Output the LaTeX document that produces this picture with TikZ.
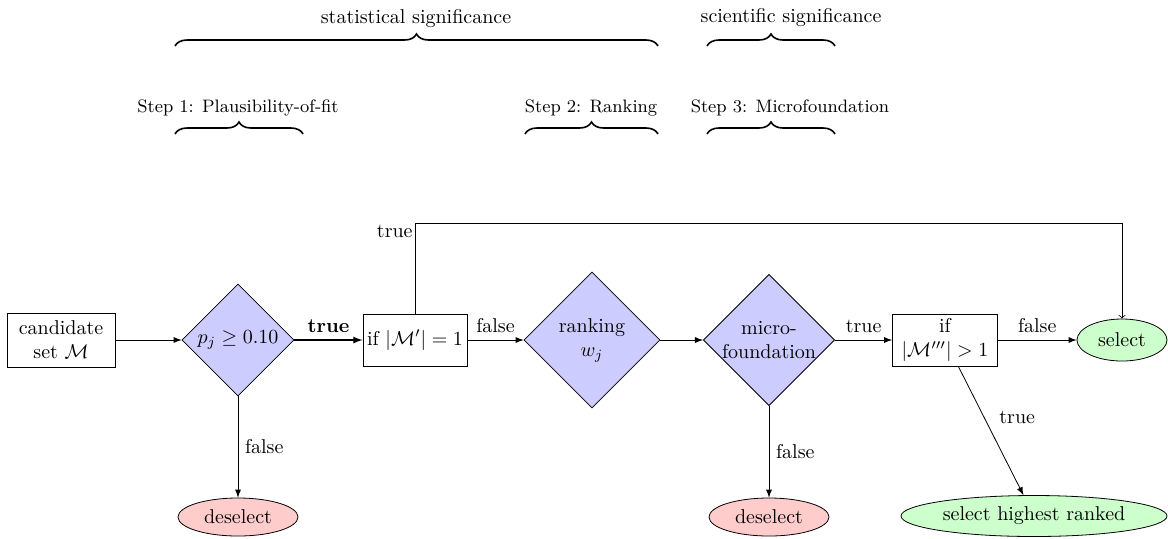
\documentclass[tikz,border=0pt]{standalone}
\usetikzlibrary{shapes.geometric,decorations.pathreplacing,arrows}
\begin{document}
\begin{tikzpicture}[x=0.5pt,y=-0.5pt,
  box/.style={draw,rectangle,align=center,inner sep=2pt},
  decision/.style={draw,diamond,fill=blue!20,inner sep=0pt,align=center},
  endsel/.style={draw,ellipse,fill=green!20,inner sep=0pt},
  enddesel/.style={draw,ellipse,fill=red!20,inner sep=0pt},
  arr/.style={-latex},
  bracestyle/.style={decorate,decoration={brace,amplitude=6pt},thick},
  steplbl/.style={font=\small,anchor=base},
  toplbl/.style={anchor=base}]
\useasboundingbox (0,0) rectangle (1168,538);

% top braces and labels
\coordinate (sA) at (175,46);
\coordinate (sB) at (658,46);
\coordinate (cA) at (707,46);
\coordinate (cB) at (835,46);
\draw[bracestyle] (sA) -- (sB);
\draw[bracestyle] (cA) -- (cB);
\node[toplbl] (statlbl) at (416,23) {statistical significance};
\node[toplbl] (scilbl) at (791,22) {scientific significance};

\coordinate (p1A) at (175,134);
\coordinate (p1B) at (303,134);
\coordinate (p2A) at (525,134);
\coordinate (p2B) at (658,134);
\coordinate (p3A) at (707,134);
\coordinate (p3B) at (835,134);
\draw[bracestyle] (p1A) -- (p1B);
\draw[bracestyle] (p2A) -- (p2B);
\draw[bracestyle] (p3A) -- (p3B);
\node[steplbl] (st1) at (238,112) {Step 1: Plausibility-of-fit};
\node[steplbl] (st2) at (591,112) {Step 2: Ranking};
\node[steplbl] (st3) at (790,112) {Step 3: Microfoundation};

% flow nodes
\node[box,minimum width=54pt,minimum height=27pt] (cand) at (61,340) {candidate\\set $\mathcal{M}$};
\node[decision,minimum width=56pt,minimum height=56pt] (d1) at (238,340) {$p_j \geq 0.10$};
\node[box,minimum width=52pt,minimum height=26pt] (if1) at (415,340) {if $|\mathcal{M}'|=1$};
\node[decision,minimum width=68pt,minimum height=68pt] (d2) at (592,340) {ranking\\$w_j$};
\node[decision,minimum width=65pt,minimum height=65pt] (d3) at (769,340) {micro-\\foundation};
\node[box,minimum width=52.5pt,minimum height=26pt] (if2) at (945,340) {if\\$|\mathcal{M}'''|>1$};
\node[endsel,minimum width=45pt,minimum height=21pt] (sel) at (1122,340) {select};
\node[endsel,minimum width=133pt,minimum height=20.5pt] (shr) at (1034,516) {select highest ranked};
\node[enddesel,minimum width=60pt,minimum height=19pt] (des1) at (238,517) {deselect};
\node[enddesel,minimum width=60pt,minimum height=19pt] (des2) at (769,517) {deselect};
\coordinate (looptop) at (768,223);

% connectors
\draw[arr] (cand) -- (d1);
\draw[arr,semithick] (d1) -- node[above]{\textbf{true}} (if1);
\draw[arr] (if1) -- node[above]{false} (d2);
\draw[arr] (d2) -- (d3);
\draw[arr] (d3) -- node[above]{true} (if2);
\draw[arr] (if2) -- node[above]{false} (sel);
\draw[arr] (if2) -- node[pos=0.4,right,xshift=4pt]{true} (shr);
\draw[arr] (d1) -- node[right]{false} (des1);
\draw[arr] (d3) -- node[right]{false} (des2);
\draw[->] (if1.north) |- node[pos=0.5,anchor=north east,inner sep=1pt]{true} (looptop) -| (sel.north);
\end{tikzpicture}
\end{document}
